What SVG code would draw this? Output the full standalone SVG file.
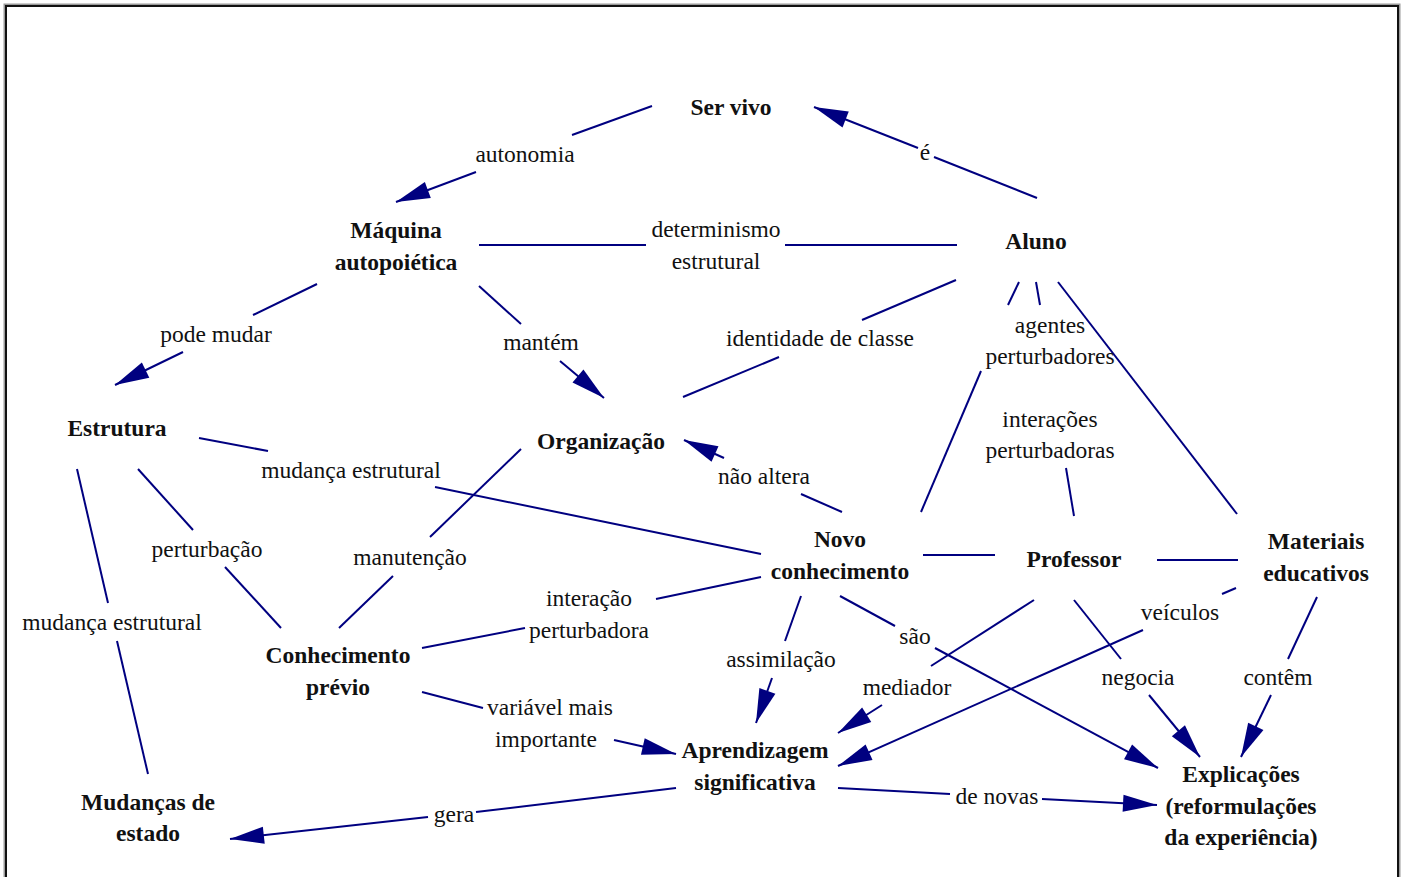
<svg xmlns="http://www.w3.org/2000/svg" width="1403" height="877" viewBox="0 0 1403 877">
  <style>
    .frame-shadow { fill: none; stroke: #9a9a9a; stroke-width: 3; }
    .frame { fill: none; stroke: #111; stroke-width: 2; }
    .node text { font-family: "Liberation Serif", "Times New Roman", serif; font-size: 23.5px; font-weight: bold; fill: #111; text-anchor: middle; }
    .label text { font-family: "Liberation Serif", "Times New Roman", serif; font-size: 23.5px; fill: #111; text-anchor: middle; }
    .links line { stroke: #000080; stroke-width: 2; }
    .links line.arrow { marker-end: url(#head); }
  </style>
  <defs>
    <marker id="head" markerUnits="userSpaceOnUse" markerWidth="36" markerHeight="18" refX="34" refY="8.5" orient="auto" overflow="visible">
      <path d="M0,0 L34,8.5 L0,17 Z" fill="#000080"/>
    </marker>
  </defs>

  <rect width="1403" height="877" fill="#fff"/>
  <rect class="frame-shadow" x="5" y="5" width="1394" height="884"/>
  <rect class="frame" x="6" y="6" width="1392" height="882"/>

  <!-- connectors: each link is split around its label -->
  <g id="connectors" class="links">
    <!-- autonomia -->
    <line x1="652" y1="106" x2="572" y2="135"/>
    <line class="arrow" x1="476" y1="172" x2="396" y2="202"/>
    <!-- é -->
    <line x1="1037" y1="198" x2="934" y2="157"/>
    <line class="arrow" x1="918" y1="148" x2="814" y2="107"/>
    <!-- determinismo estrutural -->
    <line x1="479" y1="245" x2="646" y2="245"/>
    <line x1="785" y1="245" x2="957" y2="245"/>
    <!-- pode mudar -->
    <line x1="317" y1="284" x2="253" y2="315"/>
    <line class="arrow" x1="183" y1="352" x2="115" y2="385"/>
    <!-- mantém -->
    <line x1="479" y1="286" x2="521" y2="324"/>
    <line class="arrow" x1="560" y1="361" x2="604" y2="398"/>
    <!-- identidade de classe -->
    <line x1="956" y1="280" x2="862" y2="320"/>
    <line x1="779" y1="357" x2="683" y2="397"/>
    <!-- agentes perturbadores / interações perturbadoras -->
    <line x1="1019" y1="282" x2="1008" y2="305"/>
    <line x1="1036" y1="282" x2="1040" y2="305"/>
    <line x1="981" y1="371" x2="921" y2="512"/>
    <line x1="1066" y1="468" x2="1074" y2="516"/>
    <!-- Aluno to Materiais educativos -->
    <line x1="1058" y1="282" x2="1237" y2="514"/>
    <!-- mudança estrutural (Estrutura to Novo conhecimento) -->
    <line x1="199" y1="438" x2="268" y2="451"/>
    <line x1="435" y1="487" x2="761" y2="554"/>
    <!-- não altera -->
    <line x1="842" y1="512" x2="801" y2="494"/>
    <line class="arrow" x1="724" y1="458" x2="684" y2="440"/>
    <!-- perturbação -->
    <line x1="138" y1="469" x2="193" y2="530"/>
    <line x1="225" y1="567" x2="281" y2="628"/>
    <!-- manutenção -->
    <line x1="521" y1="449" x2="430" y2="537"/>
    <line x1="393" y1="576" x2="339" y2="628"/>
    <!-- mudança estrutural (Estrutura to Mudanças de estado) -->
    <line x1="77" y1="469" x2="108" y2="603"/>
    <line x1="117" y1="641" x2="148" y2="774"/>
    <!-- interação perturbadora -->
    <line x1="422" y1="648" x2="525" y2="628"/>
    <line x1="656" y1="599" x2="761" y2="577"/>
    <!-- variável mais importante -->
    <line x1="422" y1="692" x2="483" y2="708"/>
    <line class="arrow" x1="614" y1="740" x2="676" y2="754"/>
    <!-- assimilação -->
    <line x1="801" y1="596" x2="785" y2="641"/>
    <line class="arrow" x1="772" y1="678" x2="756" y2="723"/>
    <!-- são -->
    <line x1="840" y1="596" x2="895" y2="626"/>
    <line class="arrow" x1="935" y1="648" x2="1158" y2="768"/>
    <!-- Novo conhecimento / Professor / Materiais educativos -->
    <line x1="923" y1="555" x2="995" y2="555"/>
    <line x1="1157" y1="560" x2="1238" y2="560"/>
    <!-- mediador -->
    <line x1="1034" y1="600" x2="931" y2="666"/>
    <line class="arrow" x1="882" y1="705" x2="838" y2="733"/>
    <!-- negocia -->
    <line x1="1074" y1="600" x2="1121" y2="659"/>
    <line class="arrow" x1="1149" y1="695" x2="1200" y2="757"/>
    <!-- contêm -->
    <line x1="1317" y1="597" x2="1288" y2="659"/>
    <line class="arrow" x1="1271" y1="695" x2="1241" y2="757"/>
    <!-- veículos -->
    <line x1="1236" y1="588" x2="1222" y2="594"/>
    <line class="arrow" x1="1143" y1="630" x2="838" y2="766"/>
    <!-- gera -->
    <line x1="676" y1="788" x2="476" y2="812"/>
    <line class="arrow" x1="428" y1="817" x2="230" y2="839"/>
    <!-- de novas -->
    <line x1="838" y1="788" x2="950" y2="794"/>
    <line class="arrow" x1="1042" y1="799" x2="1157" y2="805"/>
  </g>

  <!-- concepts -->
  <g id="ser-vivo" class="node"><text x="731" y="115">Ser vivo</text></g>
  <g id="maquina-autopoietica" class="node"><text x="396" y="238">Máquina</text><text x="396" y="270">autopoiética</text></g>
  <g id="aluno" class="node"><text x="1036" y="249">Aluno</text></g>
  <g id="estrutura" class="node"><text x="117" y="436">Estrutura</text></g>
  <g id="organizacao" class="node"><text x="601" y="449">Organização</text></g>
  <g id="novo-conhecimento" class="node"><text x="840" y="547">Novo</text><text x="840" y="579">conhecimento</text></g>
  <g id="professor" class="node"><text x="1074" y="567">Professor</text></g>
  <g id="materiais-educativos" class="node"><text x="1316" y="549">Materiais</text><text x="1316" y="581">educativos</text></g>
  <g id="conhecimento-previo" class="node"><text x="338" y="663">Conhecimento</text><text x="338" y="695">prévio</text></g>
  <g id="aprendizagem-significativa" class="node"><text x="755" y="758">Aprendizagem</text><text x="755" y="790">significativa</text></g>
  <g id="mudancas-de-estado" class="node"><text x="148" y="810">Mudanças de</text><text x="148" y="841">estado</text></g>
  <g id="explicacoes" class="node"><text x="1241" y="782">Explicações</text><text x="1241" y="814">(reformulações</text><text x="1241" y="845">da experiência)</text></g>

  <!-- linking phrases -->
  <g id="lbl-autonomia" class="label"><text x="525" y="162">autonomia</text></g>
  <g id="lbl-e" class="label"><text x="925" y="160">é</text></g>
  <g id="lbl-determinismo" class="label"><text x="716" y="237">determinismo</text><text x="716" y="269">estrutural</text></g>
  <g id="lbl-pode-mudar" class="label"><text x="216" y="342">pode mudar</text></g>
  <g id="lbl-mantem" class="label"><text x="541" y="350">mantém</text></g>
  <g id="lbl-identidade" class="label"><text x="820" y="346">identidade de classe</text></g>
  <g id="lbl-agentes" class="label"><text x="1050" y="333">agentes</text><text x="1050" y="364">perturbadores</text></g>
  <g id="lbl-interacoes" class="label"><text x="1050" y="427">interações</text><text x="1050" y="458">perturbadoras</text></g>
  <g id="lbl-mudanca-1" class="label"><text x="351" y="478">mudança estrutural</text></g>
  <g id="lbl-nao-altera" class="label"><text x="764" y="484">não altera</text></g>
  <g id="lbl-perturbacao" class="label"><text x="207" y="557">perturbação</text></g>
  <g id="lbl-manutencao" class="label"><text x="410" y="565">manutenção</text></g>
  <g id="lbl-mudanca-2" class="label"><text x="112" y="630">mudança estrutural</text></g>
  <g id="lbl-interacao" class="label"><text x="589" y="606">interação</text><text x="589" y="638">perturbadora</text></g>
  <g id="lbl-assimilacao" class="label"><text x="781" y="667">assimilação</text></g>
  <g id="lbl-sao" class="label"><text x="915" y="644">são</text></g>
  <g id="lbl-veiculos" class="label"><text x="1180" y="620">veículos</text></g>
  <g id="lbl-mediador" class="label"><text x="907" y="695">mediador</text></g>
  <g id="lbl-negocia" class="label"><text x="1138" y="685">negocia</text></g>
  <g id="lbl-contem" class="label"><text x="1278" y="685">contêm</text></g>
  <g id="lbl-variavel" class="label"><text x="550" y="715">variável mais</text><text x="546" y="747">importante</text></g>
  <g id="lbl-gera" class="label"><text x="454" y="822">gera</text></g>
  <g id="lbl-de-novas" class="label"><text x="997" y="804">de novas</text></g>
</svg>
